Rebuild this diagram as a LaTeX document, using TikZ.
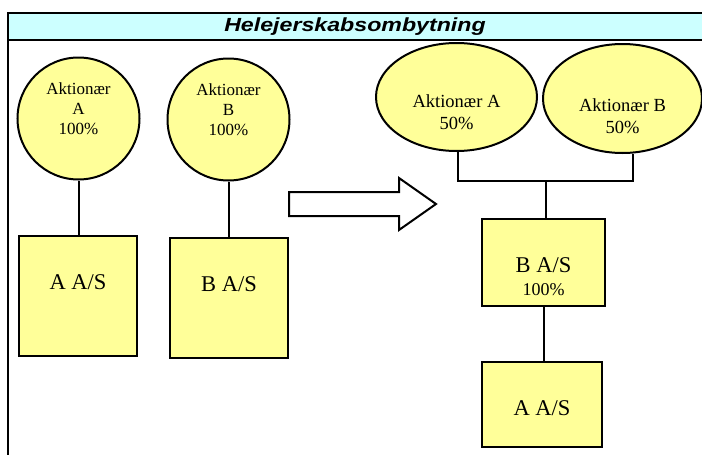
\documentclass[tikz,border=0pt]{standalone}
\usepackage{fontspec}
\setmainfont{Liberation Serif}
\newfontfamily\headfont{Liberation Sans}
\usetikzlibrary{shapes.geometric,calc}
\definecolor{boxyellow}{HTML}{FFFF99}
\definecolor{headcyan}{HTML}{CCFFFF}
% text block centred on the node, moved up by #1 (negative moves it down)
\newcommand\liftedtext[2]{\raisebox{#1}[0pt][0pt]{\begin{tabular}{@{}c@{}}#2\end{tabular}}}
\tikzset{
  link/.style={line width=2pt},
  owner/.style={circle, draw, line width=2pt, fill=boxyellow, minimum size=122pt, inner sep=0pt, align=center, font=\fontsize{17}{20}\selectfont},
  ownerwide/.style={ellipse, draw, line width=2pt, fill=boxyellow, inner sep=0pt, align=center, font=\fontsize{18.5}{22}\selectfont},
  company/.style={rectangle, draw, line width=2pt, fill=boxyellow, inner sep=0pt, align=center, font=\fontsize{22.5}{23}\selectfont},
}
\begin{document}
\begin{tikzpicture}[x=1pt,y=-1pt]
\useasboundingbox (0,0) rectangle (702,455);
\begin{scope}
\clip (0,0) rectangle (702,455);
% frame with title band
\fill[headcyan] (8,13) rectangle (710,40);
\draw[line width=2.5pt] (8,470) -- (8,13) -- (710,13);
\draw[line width=2.5pt] (8,40) -- (710,40);
\node[font=\headfont\bfseries\itshape\fontsize{19}{20}\selectfont, xscale=1.22] (title) at (355,26.5) {Helejerskabsombytning};

% before: two separate owners
\node[owner] (oa) at (78.5,118.5) {\liftedtext{3.3pt}{Aktionær\\A\\100\%}};
\node[owner] (ob) at (228.5,119.5) {\liftedtext{3.2pt}{Aktionær\\B\\100\%}};
\node[company, minimum width=118pt, minimum height=120pt] (ca) at (78,296) {\liftedtext{5.6pt}{A A/S}};
\node[company, minimum width=118pt, minimum height=120pt] (cb) at (229,298) {\liftedtext{5.8pt}{B A/S}};
\draw[link] (oa.south) -- (oa.south |- ca.north);
\draw[link] (ob.south) -- (ob.south |- cb.north);

% transition arrow
\draw[line width=2pt, fill=white] (289,192) -- (399,192) -- (399,178) -- (436,204) -- (399,230) -- (399,216) -- (289,216) -- cycle;

% after: joint ownership
\node[ownerwide, minimum width=161pt, minimum height=108pt] (na) at (456.5,97) {\liftedtext{-21.8pt}{Aktionær A\\50\%}};
\node[ownerwide, minimum width=159pt, minimum height=109pt] (nb) at (622.5,98.5) {\liftedtext{-23.5pt}{Aktionær B\\50\%}};
\node[company, minimum width=123pt, minimum height=87pt] (nbas) at (543.5,262.5) {\liftedtext{-22pt}{B A/S\\{\fontsize{18}{18}\selectfont 100\%}}};
\node[company, minimum width=120pt, minimum height=85pt] (naas) at (542,404.5) {\liftedtext{-12pt}{A A/S}};
\coordinate (joinA) at (458,181);
\coordinate (joinB) at (633,181);
\coordinate (joinM) at (546,181);
\draw[link] (na.south -| joinA) -- (joinA) -- (joinB) -- (nb.south -| joinB);
\draw[link] (joinM) -- (joinM |- nbas.north);
\draw[link] (nbas.south -| 544,0) -- (naas.north -| 544,0);
\end{scope}
\end{tikzpicture}
\end{document}
